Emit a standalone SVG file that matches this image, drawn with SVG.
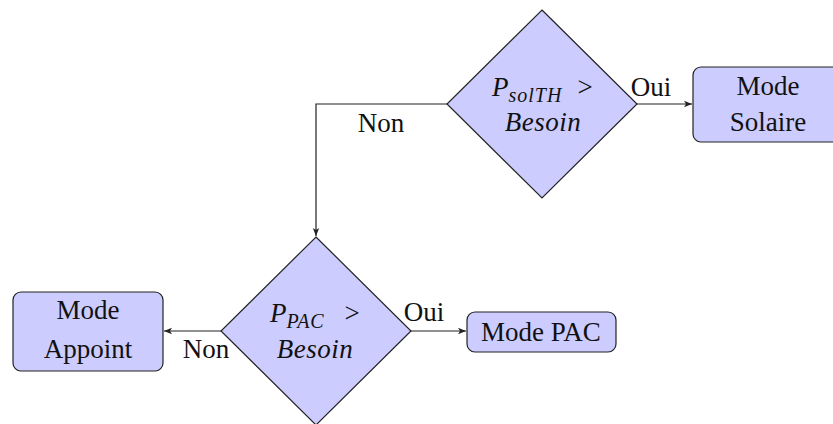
<svg xmlns="http://www.w3.org/2000/svg" width="833" height="424" viewBox="0 0 833 424">
  <defs>
    <marker id="arr" viewBox="0 0 10 10" refX="10" refY="5" markerWidth="8" markerHeight="8" markerUnits="userSpaceOnUse" orient="auto">
      <path d="M0,1 L10,5 L0,9 L2.5,5 Z" fill="#222"/>
    </marker>
  </defs>
  <rect width="833" height="424" fill="#ffffff"/>

  <g id="connectors" fill="none" stroke="#222" stroke-width="1.2">
    <path d="M447,104 L316,104 L316,236" marker-end="url(#arr)"/>
    <path d="M637,104 L692,104" marker-end="url(#arr)"/>
    <path d="M221,331 L164,331" marker-end="url(#arr)"/>
    <path d="M410,331 L466,331" marker-end="url(#arr)"/>
  </g>
  <g id="labels" font-size="27" fill="#111" text-anchor="middle">
    <text x="651" y="96" style="font-family:'Liberation Serif',serif">Oui</text>
    <text x="381" y="132" style="font-family:'Liberation Serif',serif">Non</text>
    <text x="206" y="358" style="font-family:'Liberation Serif',serif">Non</text>
    <text x="424" y="321" style="font-family:'Liberation Serif',serif">Oui</text>
  </g>

  <g id="nodes" font-size="27">
    <g id="dec1">
      <polygon points="542,10 637,104 542,198 447,104" fill="#ccccff" stroke="#222" stroke-width="1.2"/>
      <text x="492" y="96" fill="#111" style="font-family:'Liberation Serif',serif;font-style:italic">P<tspan font-size="20" dy="6" letter-spacing="1">solTH</tspan></text>
      <text x="585" y="96" text-anchor="middle" fill="#111" style="font-family:'Liberation Serif',serif">&gt;</text>
      <text x="543" y="131" text-anchor="middle" letter-spacing="0.5" fill="#111" style="font-family:'Liberation Serif',serif;font-style:italic">Besoin</text>
    </g>

    <g id="solaire">
      <rect x="693" y="67" width="150" height="75" rx="8" ry="8" fill="#ccccff" stroke="#222" stroke-width="1.2"/>
      <text x="768" y="95" text-anchor="middle" fill="#111" style="font-family:'Liberation Serif',serif">Mode</text>
      <text x="768" y="131" text-anchor="middle" fill="#111" style="font-family:'Liberation Serif',serif">Solaire</text>
    </g>

    <g id="dec2">
      <polygon points="316,237 411,331 316,425 221,331" fill="#ccccff" stroke="#222" stroke-width="1.2"/>
      <text x="270" y="322" fill="#111" style="font-family:'Liberation Serif',serif;font-style:italic">P<tspan font-size="20" dy="6" letter-spacing="1">PAC</tspan></text>
      <text x="352" y="322" text-anchor="middle" fill="#111" style="font-family:'Liberation Serif',serif">&gt;</text>
      <text x="315" y="358" text-anchor="middle" letter-spacing="0.5" fill="#111" style="font-family:'Liberation Serif',serif;font-style:italic">Besoin</text>
    </g>

    <g id="appoint">
      <rect x="13" y="292" width="150" height="79" rx="8" ry="8" fill="#ccccff" stroke="#222" stroke-width="1.2"/>
      <text x="88" y="319" text-anchor="middle" fill="#111" style="font-family:'Liberation Serif',serif">Mode</text>
      <text x="88" y="358" text-anchor="middle" fill="#111" style="font-family:'Liberation Serif',serif">Appoint</text>
    </g>

    <g id="pac">
      <rect x="467" y="312" width="149" height="40" rx="8" ry="8" fill="#ccccff" stroke="#222" stroke-width="1.2"/>
      <text x="541" y="341" text-anchor="middle" fill="#111" style="font-family:'Liberation Serif',serif">Mode PAC</text>
    </g>
  </g>
</svg>
